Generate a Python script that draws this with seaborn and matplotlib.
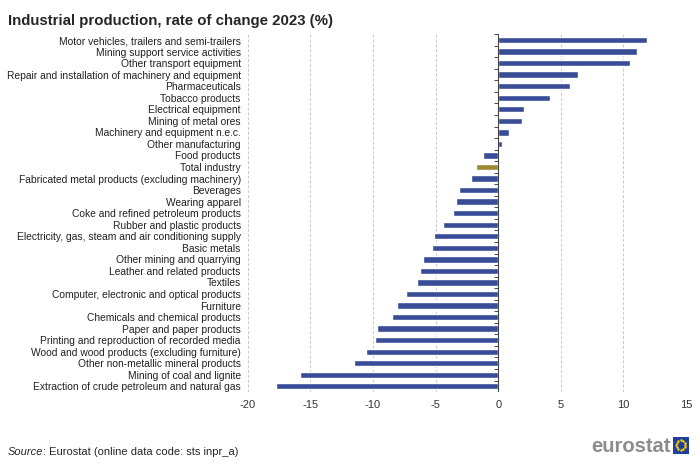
import numpy as np
import pandas as pd
import matplotlib
matplotlib.use("Agg")
import matplotlib.pyplot as plt
from matplotlib.patches import Rectangle
import seaborn as sns

# ----------------------------------------
# Data
# ----------------------------------------

sectors = [
    "Motor vehicles, trailers and semi-trailers",
    "Mining support service activities",
    "Other transport equipment",
    "Repair and installation of machinery and equipment",
    "Pharmaceuticals",
    "Tobacco products",
    "Electrical equipment",
    "Mining of metal ores",
    "Machinery and equipment n.e.c.",
    "Other manufacturing",
    "Food products",
    "Total industry",
    "Fabricated metal products (excluding machinery)",
    "Beverages",
    "Wearing apparel",
    "Coke and refined petroleum products",
    "Rubber and plastic products",
    "Electricity, gas, steam and air conditioning supply",
    "Basic metals",
    "Other mining and quarrying",
    "Leather and related products",
    "Textiles",
    "Computer, electronic and optical products",
    "Furniture",
    "Chemicals and chemical products",
    "Paper and paper products",
    "Printing and reproduction of recorded media",
    "Wood and wood products (excluding furniture)",
    "Other non-metallic mineral products",
    "Mining of coal and lignite",
    "Extraction of crude petroleum and natural gas",
]

rate_2023 = [
    11.9, 11.05, 10.5, 6.4, 5.7, 4.1, 2.1, 1.9, 0.9, 0.3,
    -1.2, -1.8, -2.2, -3.1, -3.4, -3.6, -4.4, -5.15, -5.3, -6.0,
    -6.25, -6.5, -7.4, -8.1, -8.45, -9.65, -9.85, -10.55, -11.55,
    -15.85, -17.75,
]

x_ticks = [-20, -15, -10, -5, 0, 5, 10, 15]

df = pd.DataFrame({"sector": sectors, "rate": rate_2023})
df["group"] = np.where(df["sector"] == "Total industry", "total", "sector")

# ----------------------------------------
# Plot
# ----------------------------------------

sns.set_style("white")
plt.rcParams["font.family"] = ["Liberation Sans", "DejaVu Sans"]

fig = plt.figure(figsize=(7, 4.69), dpi=100)
ax = fig.add_axes([0.354, 0.164, 0.626, 0.763])

sns.barplot(
    data=df,
    x="rate",
    y="sector",
    hue="group",
    palette={"sector": "#2A44A6", "total": "#B09120"},
    orient="h",
    width=0.55,
    dodge=False,
    legend=False,
    ax=ax,
)

ax.set_xlim(-20, 15)
ax.set_ylim(len(sectors) - 0.5, -0.5)
ax.set_xticks(x_ticks)
ax.set_xticklabels([str(t) for t in x_ticks], fontsize=8, color="#333333")
ax.tick_params(axis="y", labelsize=7.4, length=0, pad=5, labelcolor="#222222")
ax.tick_params(axis="x", length=0, pad=6)
ax.set_xlabel("")
ax.set_ylabel("")

for s in ax.spines.values():
    s.set_visible(False)

ax.grid(axis="x", color="#c8c8c8", linestyle=(0, (3, 2)), linewidth=0.7)
ax.set_axisbelow(True)

# zero axis with small ticks between categories
ax.axvline(0, color="#444444", linewidth=0.8, zorder=3)
bounds = np.arange(len(sectors) + 1) - 0.5
ax.hlines(bounds, -0.3, 0, color="#444444", linewidth=0.7, zorder=3)

# ----------------------------------------
# Titles and footer
# ----------------------------------------

fig.text(0.011, 0.97, "Industrial production, rate of change 2023 (%)",
         fontsize=10.8, fontweight="bold", va="top", ha="left")

src = fig.text(0.011, 0.025, "Source", fontsize=8, style="italic",
               ha="left", va="bottom")
fig.canvas.draw()
bb = src.get_window_extent().transformed(fig.transFigure.inverted())
fig.text(bb.x1, 0.025, ": Eurostat (online data code: sts inpr_a)",
         fontsize=8, ha="left", va="bottom")

# eurostat logo
fig.text(0.958, 0.028, "eurostat", fontsize=14.5, fontweight="bold",
         color="#8c8c8c", ha="right", va="bottom")
fig.patches.append(Rectangle((0.961, 0.033), 0.023, 0.036,
                             transform=fig.transFigure,
                             facecolor="#1f3f9a", edgecolor="none"))
ang = np.linspace(0, 2 * np.pi, 12, endpoint=False)
fig.add_artist(plt.Line2D(0.9725 + 0.0065 * np.cos(ang),
                          0.051 + 0.0098 * np.sin(ang),
                          transform=fig.transFigure, linestyle="none",
                          marker="o", markersize=0.8, color="#f5d000"))

fig.savefig("out.png", dpi=100)
